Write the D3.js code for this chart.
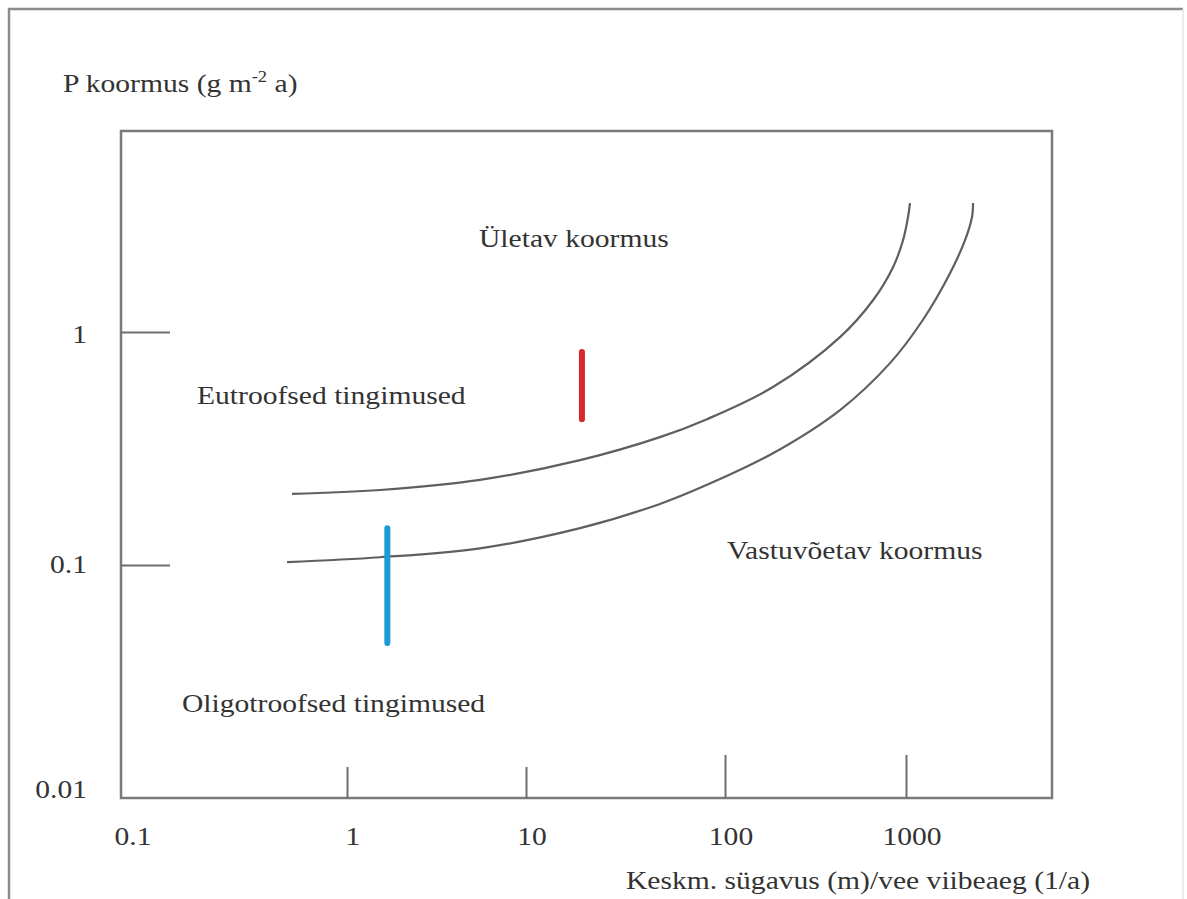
<!DOCTYPE html>
<html>
<head>
<meta charset="utf-8">
<script src="https://cdn.jsdelivr.net/npm/d3@7"></script>
<style>
  html, body { margin: 0; padding: 0; background: #fff; }
  text { font-family: "Liberation Serif", "DejaVu Serif", serif; fill: #333; }
</style>
</head>
<body>
<div id="chart"></div>
<script>
// loading limit curves
var upperX = [0.571, 1.53, 5.53, 18.7, 47.1, 81.2, 184, 432, 657, 848, 963, 1026, 1052];
var upperY = [0.202, 0.210, 0.232, 0.282, 0.354, 0.423, 0.581, 0.952, 1.37, 1.90, 2.48, 3.12, 3.58];
var lowerX = [0.543, 1.53, 5.53, 18.7, 47.1, 81.2, 184, 432, 816, 1241, 1750, 2118, 2315, 2346];
var lowerY = [0.103, 0.108, 0.118, 0.144, 0.183, 0.221, 0.302, 0.463, 0.736, 1.13, 1.79, 2.48, 3.12, 3.58];

// the two lake ranges
var redX = 19.1, redY = [0.423, 0.821];
var blueX = 1.68, blueY = [0.0463, 0.144];

var xTicksShort = [1, 10],
    xTicksLong = [100, 1000],
    xLabels = [0.1, 1, 10, 100, 1000],
    yTicks = [1, 0.1],
    yLabels = [1, 0.1, 0.01];

var width = 1187,
    height = 899;

var fs = 25.5, sx = 1.16;   // the scan is a bit stretched sideways

var svg = d3.select("#chart")
    .append("svg")
    .attr("width", width)
    .attr("height", height);

// outer frame
svg.append("path")
    .attr("d", "M9,905V9H1183")
    .attr("fill", "none")
    .attr("stroke", "#8c8c8c")
    .attr("stroke-width", 2.5);
svg.append("line")
    .attr("x1", 1183).attr("x2", 1183)
    .attr("y1", 9).attr("y2", 899)
    .attr("stroke", "#e4e4e4")
    .attr("stroke-width", 1.5);

// hand drawn decades are not quite even, so piecewise log
var x = d3.scaleLog()
    .domain([0.1, 1, 10, 100, 1000, 6400])
    .range([121, 347, 526, 725, 906, 1052]);

var y = d3.scaleLog()
    .domain([0.01, 7.3])
    .range([798, 131]);

svg.append("rect")
    .attr("x", x.range()[0])
    .attr("y", y.range()[1])
    .attr("width", x.range()[5] - x.range()[0])
    .attr("height", y.range()[0] - y.range()[1])
    .attr("fill", "none")
    .attr("stroke", "#7a7a7a")
    .attr("stroke-width", 2.5);

function ticks(axis) {
  return function(g) {
    g.call(axis);
    g.select(".domain").remove();
    g.selectAll(".tick line").attr("stroke", "#6e6e6e").attr("stroke-width", 2);
    g.selectAll(".tick text").remove();
  };
}

svg.append("g")
    .attr("transform", "translate(0," + y.range()[0] + ")")
    .call(ticks(d3.axisBottom(x).tickValues(xTicksShort).tickSizeInner(-31).tickSizeOuter(0)));

svg.append("g")
    .attr("transform", "translate(0," + y.range()[0] + ")")
    .call(ticks(d3.axisBottom(x).tickValues(xTicksLong).tickSizeInner(-43).tickSizeOuter(0)));

svg.append("g")
    .attr("transform", "translate(" + x.range()[0] + ",0)")
    .call(ticks(d3.axisRight(y).tickValues(yTicks).tickSizeInner(49).tickSizeOuter(0)));

function label(txt, px, py, anchor) {
  return svg.append("text")
      .attr("transform", "translate(" + px + "," + py + ") scale(" + sx + ",1)")
      .attr("text-anchor", anchor || "start")
      .style("font-size", fs + "px")
      .text(txt);
}

xLabels.forEach(function(v) {
  label(v, x(v) + (v < 1 ? 12 : 6), 845, "middle");
});

var yLabelDy = [11, 8, 0];
yLabels.forEach(function(v, i) {
  label(v, 87, y(v) + yLabelDy[i], "end");
});

// y title with superscript
var t = label("P koormus (g m", 63, 92);
t.append("tspan").attr("dy", -10).style("font-size", "16px").text("-2");
t.append("tspan").attr("dy", 10).text(" a)");

label("Keskm. sügavus (m)/vee viibeaeg (1/a)", 626, 889);

label("Ületav koormus", 479, 247);
label("Eutroofsed tingimused", 197, 404);
label("Vastuvõetav koormus", 727, 559);
label("Oligotroofsed tingimused", 182, 712);

var line = d3.line()
    .x(function(d) { return x(d[0]); })
    .y(function(d) { return y(d[1]); })
    .curve(d3.curveCatmullRom.alpha(0.5));

svg.append("path")
    .datum(d3.zip(upperX, upperY))
    .attr("d", line)
    .attr("fill", "none")
    .attr("stroke", "#5f5f5f")
    .attr("stroke-width", 2.2);

svg.append("path")
    .datum(d3.zip(lowerX, lowerY))
    .attr("d", line)
    .attr("fill", "none")
    .attr("stroke", "#5f5f5f")
    .attr("stroke-width", 2.2);

svg.append("line")
    .attr("x1", x(redX)).attr("x2", x(redX))
    .attr("y1", y(redY[0])).attr("y2", y(redY[1]))
    .attr("stroke", "#d7282d")
    .attr("stroke-width", 6)
    .attr("stroke-linecap", "round");

svg.append("line")
    .attr("x1", x(blueX)).attr("x2", x(blueX))
    .attr("y1", y(blueY[0])).attr("y2", y(blueY[1]))
    .attr("stroke", "#1a9bd7")
    .attr("stroke-width", 6)
    .attr("stroke-linecap", "round");
</script>
</body>
</html>
